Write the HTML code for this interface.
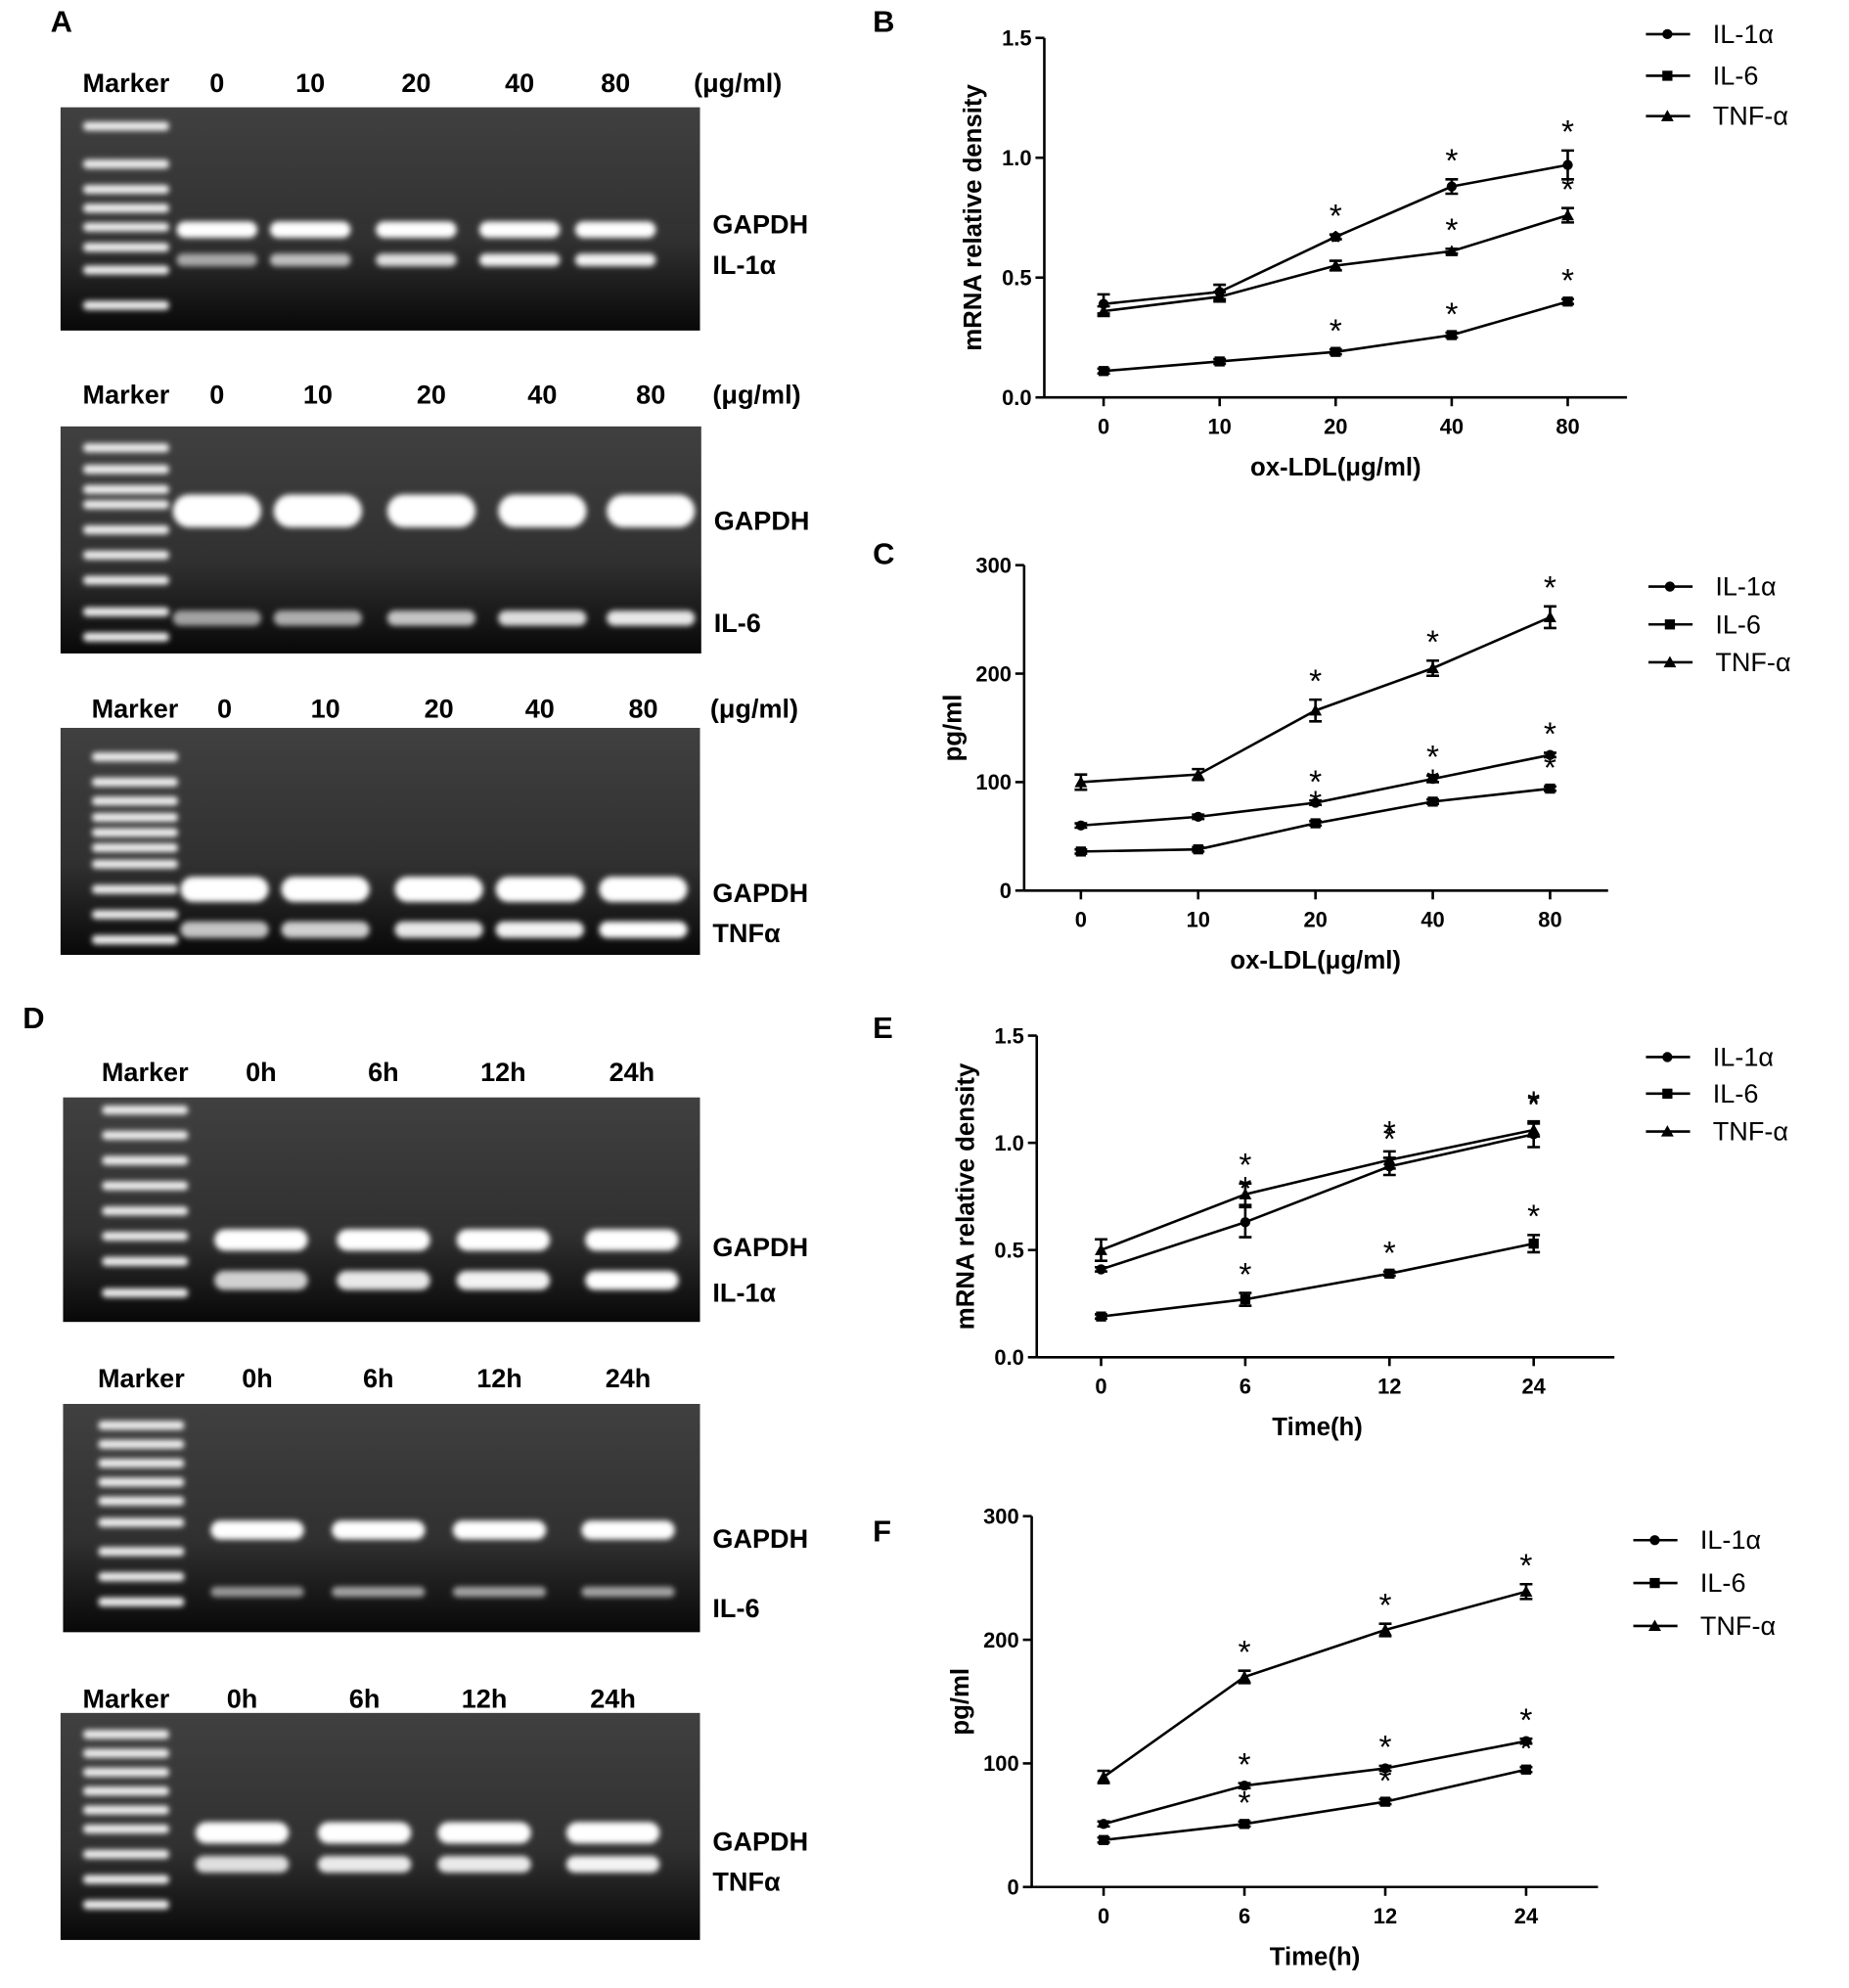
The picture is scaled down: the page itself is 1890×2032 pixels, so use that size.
<!DOCTYPE html>
<html><head><meta charset="utf-8"><style>
html,body{margin:0;padding:0;background:#fff;}
svg{display:block;}
text{font-family:"Liberation Sans",Arial,sans-serif;}
</style></head><body>
<svg id="fig" width="1890" height="2032" viewBox="0 0 1466 1576" xmlns="http://www.w3.org/2000/svg">
<defs>
<filter id="blur" x="-20%" y="-100%" width="140%" height="300%"><feGaussianBlur stdDeviation="2.2"/></filter>
<linearGradient id="gelbg" x1="0" y1="0" x2="0" y2="1"><stop offset="0" stop-color="#404040"/><stop offset="0.6" stop-color="#303030"/><stop offset="1" stop-color="#080808"/></linearGradient>
</defs>
<g id="gels"></g>
<g id="charts"></g>
</svg>
<script>
const NS="http://www.w3.org/2000/svg";
function el(parent,tag,attrs,txt){const e=document.createElementNS(NS,tag);for(const k in attrs)e.setAttribute(k,attrs[k]);if(txt!==undefined)e.textContent=txt;parent.appendChild(e);return e;}

const gelA1Labels=["Marker","0","10","20","40","80","(μg/ml)"];
const gelTimeLabels=["Marker","0h","6h","12h","24h"];
const gelsSpec=[
 {x:48,y:85,w:507,h:177,hy:65,lx:[100,172,246,330,412,488,585],labels:gelA1Labels,bands:[{y:182,h:13,b:[1,1,1,1,1]},{y:206,h:10,b:[0.6,0.7,0.85,0.95,0.95]}],names:[["GAPDH",178],["IL-1α",210]],marker:[100,130,150,165,180,196,214,242],panel:["A",40,25]},
 {x:48,y:338,w:508,h:180,hy:312,lx:[100,172,252,342,430,516,600],labels:gelA1Labels,bands:[{y:405,h:26,b:[1,1,1,1,1]},{y:490,h:12,b:[0.6,0.65,0.75,0.85,0.9]}],names:[["GAPDH",413],["IL-6",494]],marker:[355,372,388,400,420,440,460,485,505],panel:null},
 {x:48,y:577,w:507,h:180,hy:561,lx:[107,178,258,348,428,510,598],labels:gelA1Labels,bands:[{y:705,h:20,b:[1,1,1,1,1]},{y:737,h:13,b:[0.75,0.8,0.9,0.95,1]}],names:[["GAPDH",708],["TNFα",740]],marker:[600,620,635,648,660,672,685,705,725,745],panel:null},
 {x:50,y:870,w:505,h:178,hy:849,lx:[115,207,304,399,501],labels:gelTimeLabels,bands:[{y:983,h:17,b:[1,1,1,1]},{y:1015,h:15,b:[0.8,0.9,0.95,1]}],names:[["GAPDH",989],["IL-1α",1025]],marker:[880,900,920,940,960,980,1000,1025],panel:["D",18,815]},
 {x:50,y:1113,w:505,h:181,hy:1092,lx:[112,204,300,396,498],labels:gelTimeLabels,bands:[{y:1213,h:15,b:[1,1,1,1]},{y:1262,h:8,b:[0.55,0.6,0.6,0.6]}],names:[["GAPDH",1220],["IL-6",1275]],marker:[1130,1145,1160,1175,1190,1207,1230,1250,1270],panel:null},
 {x:48,y:1358,w:507,h:180,hy:1346,lx:[100,192,289,384,486],labels:gelTimeLabels,bands:[{y:1453,h:17,b:[1,1,1,1]},{y:1478,h:13,b:[0.85,0.9,0.9,0.95]}],names:[["GAPDH",1460],["TNFα",1492]],marker:[1375,1390,1405,1420,1435,1450,1470,1490,1510],panel:null}
];
const G=document.getElementById('gels');
gelsSpec.forEach((g,gi)=>{
  const grp=el(G,'g',{});
  
  
  if(g.panel){const p=el(grp,'text',{x:g.panel[1],y:g.panel[2],'font-size':24,'font-weight':'bold'},g.panel[0]);}
  const bg=el(grp,'rect',{x:g.x,y:g.y,width:g.w,height:g.h,fill:'url(#gelbg)'});
  
  g.labels.forEach((t,i)=>{const tt=el(grp,'text',{x:g.lx[i],y:g.hy+8,'font-size':21,'font-weight':'bold','text-anchor':'middle'},t);});
  const mx=g.lx[0];
  g.marker.forEach(my=>{const m=el(grp,'rect',{x:mx-34,y:my-3.5,width:68,height:7,rx:3,fill:'#f0f0f0',filter:'url(#blur)'});});
  g.bands.forEach(b=>{b.b.forEach((v,i)=>{
    const cx=g.lx[i+1];const bw=Math.min(74,(g.lx[2]-g.lx[1])-10);
    const r=el(grp,'rect',{x:cx-bw/2,y:b.y-b.h/2,width:bw,height:b.h,rx:b.h/2,fill:'#fff','fill-opacity':v,filter:'url(#blur)'});
    
  });});
  g.names.forEach(n=>{const t=el(grp,'text',{x:g.x+g.w+10,y:n[1]+7,'font-size':21,'font-weight':'bold'},n[0]);});
});

const catsConc=["0","10","20","40","80"];
const catsTime=["0","6","12","24"];
const seriesNames=["IL-1α","IL-6","TNF-α"];
const bIL1=[0.39,0.44,0.67,0.88,0.97];
const bIL6=[0.11,0.15,0.19,0.26,0.40];
const bTNF=[0.36,0.42,0.55,0.61,0.76];
const bErr1=[0.04,0.03,0.01,0.03,0.06];
const bErr6=[0.01,0.01,0.01,0.01,0.01];
const bErrT=[0.02,0.02,0.02,0.01,0.03];
const cIL1=[60,68,81,103,125];
const cIL6=[36,38,62,82,94];
const cTNF=[100,107,166,205,252];
const cErr1=[2,2,2,3,2];
const cErr6=[2,2,2,2,2];
const cErrT=[7,5,10,7,10];
const eIL1=[0.41,0.63,0.89,1.04];
const eIL6=[0.19,0.27,0.39,0.53];
const eTNF=[0.50,0.76,0.92,1.06];
const eErr1=[0.01,0.07,0.04,0.06];
const eErr6=[0.01,0.03,0.01,0.04];
const eErrT=[0.05,0.05,0.04,0.03];
const fIL1=[51,82,96,118];
const fIL6=[38,51,69,95];
const fTNF=[89,170,208,239];
const fErr1=[2,2,2,2];
const fErr6=[2,2,2,2];
const fErrT=[5,5,5,6];
const ticksDensity=["0.0","0.5","1.0","1.5"];
const ticksPg=["0","100","200","300"];

const C=document.getElementById('charts');
function marker(g,shape,x,y){
  let m;
  if(shape===0)m=el(g,'circle',{cx:x,cy:y,r:4,fill:'#000'});
  else if(shape===1)m=el(g,'rect',{x:x-4,y:y-4,width:8,height:8,fill:'#000'});
  else m=el(g,'polygon',{points:`${x},${y-5} ${x+5},${y+4} ${x-5},${y+4}`,fill:'#000'});
  return m;
}
function chart(o){
  const g=el(C,'g',{});
  
  
  const p=el(g,'text',{x:o.px,y:o.py,'font-size':24,'font-weight':'bold'},o.id);
  
  const ymax=o.ymax;
  const ys=v=>o.y0-(v/ymax)*(o.y0-o.y1);
  const xs=i=>o.xc[0]+i*(o.xc[1]-o.xc[0])/(o.cats.length-1);
  const ya=el(g,'line',{x1:o.x0,y1:o.y1,x2:o.x0,y2:o.y0,stroke:'#000','stroke-width':2});
  
  const xa=el(g,'line',{x1:o.x0,y1:o.y0,x2:o.x2,y2:o.y0,stroke:'#000','stroke-width':2});
  
  o.ticks.forEach(t=>{const y=ys(parseFloat(t));
    el(g,'line',{x1:o.x0-7,y1:y,x2:o.x0,y2:y,stroke:'#000','stroke-width':2});
    const tt=el(g,'text',{x:o.x0-10,y:y+6,'font-size':17,'font-weight':'bold','text-anchor':'end'},t);
    });
  o.cats.forEach((c,i)=>{const x=xs(i);
    el(g,'line',{x1:x,y1:o.y0,x2:x,y2:o.y0+7,stroke:'#000','stroke-width':2});
    const tt=el(g,'text',{x:x,y:o.y0+29,'font-size':17,'font-weight':'bold','text-anchor':'middle'},c);
    });
  const xt=el(g,'text',{x:(o.xc[0]+o.xc[1])/2,y:o.y0+62,'font-size':20,'font-weight':'bold','text-anchor':'middle'},o.xtitle);
  
  const ym=(o.y0+o.y1)/2;
  const yt=el(g,'text',{x:o.x0-50,y:ym,'font-size':20,'font-weight':'bold','text-anchor':'middle',transform:`rotate(-90 ${o.x0-50} ${ym})`},o.ytitle);
  
  o.series.forEach((s,si)=>{
    const sg=el(g,'g',{});
    
    
    const pts=s.map((v,i)=>xs(i)+','+ys(v)).join(' ');
    el(sg,'polyline',{points:pts,fill:'none',stroke:'#000','stroke-width':2});
    s.forEach((v,i)=>{
      const x=xs(i),y=ys(v);
      const e=o.errs[si][i];
      const yt2=ys(v+e),yb=ys(v-e);
      const eb=el(sg,'path',{d:`M${x},${yt2}V${yb}M${x-5},${yt2}H${x+5}M${x-5},${yb}H${x+5}`,stroke:'#000','stroke-width':2,fill:'none'});
      
      
      const m=marker(sg,si,x,y);
      
      
      if(i>=o.starFrom){
        const st=el(sg,'text',{x:x,y:yt2-6,'font-size':26,'text-anchor':'middle'},'*');
        
        
      }
    });
  });
  seriesNames.forEach((n,i)=>{
    const ly=o.ly[i];
    const lg=el(g,'g',{});
    
    
    el(lg,'line',{x1:o.lx,y1:ly,x2:o.lx+35,y2:ly,stroke:'#000','stroke-width':2});
    marker(lg,i,o.lx+17,ly);
    el(lg,'text',{x:o.lx+53,y:ly+7,'font-size':21},n);
  });
}
chart({id:'B',px:692,py:25,x0:828,x2:1290,y0:315,y1:30,ymax:1.5,xc:[875,1243],cats:catsConc,ticks:ticksDensity,series:[bIL1,bIL6,bTNF],errs:[bErr1,bErr6,bErrT],starFrom:2,xtitle:'ox-LDL(μg/ml)',ytitle:'mRNA relative density',lx:1305,ly:[27,60,92]});
chart({id:'C',px:692,py:447,x0:812,x2:1275,y0:706,y1:448,ymax:300,xc:[857,1229],cats:catsConc,ticks:ticksPg,series:[cIL1,cIL6,cTNF],errs:[cErr1,cErr6,cErrT],starFrom:2,xtitle:'ox-LDL(μg/ml)',ytitle:'pg/ml',lx:1307,ly:[465,495,525]});
chart({id:'E',px:692,py:823,x0:822,x2:1280,y0:1076,y1:821,ymax:1.5,xc:[873,1216],cats:catsTime,ticks:ticksDensity,series:[eIL1,eIL6,eTNF],errs:[eErr1,eErr6,eErrT],starFrom:1,xtitle:'Time(h)',ytitle:'mRNA relative density',lx:1305,ly:[838,867,897]});
chart({id:'F',px:692,py:1222,x0:818,x2:1267,y0:1496,y1:1202,ymax:300,xc:[875,1210],cats:catsTime,ticks:ticksPg,series:[fIL1,fIL6,fTNF],errs:[fErr1,fErr6,fErrT],starFrom:1,xtitle:'Time(h)',ytitle:'pg/ml',lx:1295,ly:[1221,1255,1289]});
</script>
</body></html>
